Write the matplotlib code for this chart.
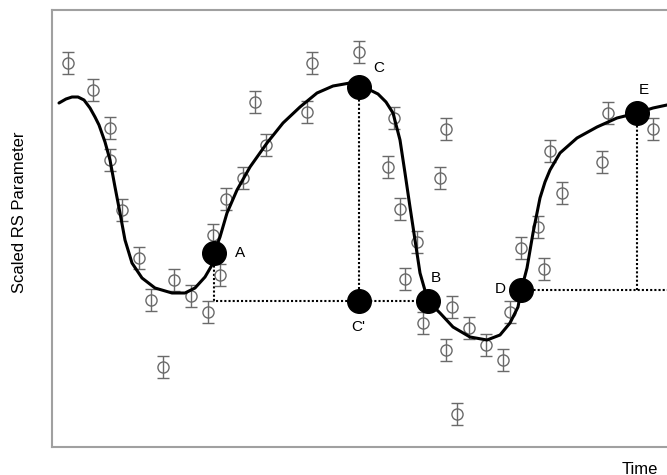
import matplotlib.pyplot as plt

plt.rcParams['font.family'] = ['Liberation Sans', 'DejaVu Sans']

# measured points (time, scaled RS parameter) with error bars
obs_t = [68, 93, 110, 110, 122, 139, 151, 163, 174, 191, 208, 213, 220, 226, 243,
         255, 266, 307, 312, 359, 394, 388, 400, 446, 440, 417, 405, 423, 452, 446,
         469, 486, 503, 457, 510, 521, 544, 538, 562, 550, 602, 608, 653]
obs_y = [412, 385, 347, 315, 265, 217, 175, 108, 195, 179, 163, 240, 200, 276, 297,
         373, 330, 363, 412, 423, 357, 308, 266, 346, 297, 233, 196, 152, 168, 125,
         147, 130, 115, 61, 163, 227, 206, 248, 282, 324, 313, 362, 346]
obs_err = 11

# fitted curve
fit_t = [59, 66, 72, 78, 84, 90, 95, 99, 105, 110, 115, 120, 125, 132, 142, 155, 172,
         185, 195, 205, 212, 214, 220, 227, 237, 250, 267, 283, 300, 317, 333, 350,
         359, 370, 378, 386, 393, 400, 405, 410, 415, 420, 428, 440, 453, 470, 487,
         500, 510, 518, 521, 527, 533, 540, 545, 550, 560, 577, 597, 617, 637, 653, 667]
fit_y = [372, 376, 378, 378, 375, 367, 358, 350, 333, 315, 288, 262, 235, 212, 197,
         187, 182, 182, 187, 198, 210, 222, 238, 262, 285, 308, 332, 352, 368, 382,
         389, 392, 388, 385, 381, 373, 362, 335, 302, 268, 235, 202, 174, 162, 148,
         138, 135, 140, 152, 168, 184, 207, 242, 277, 293, 305, 322, 337, 348, 357,
         362, 367, 370]

# key points
key_names = ['A', 'C', "C'", 'B', 'D', 'E']
key_t = [214, 359, 359, 428, 521, 637]
key_y = [222, 388, 174, 174, 185, 362]
label_t = [240, 379, 358, 436, 500, 644]
label_y = [222, 407, 148, 197, 186, 385]

fig = plt.figure(figsize=(6.67, 4.75), dpi=100)
ax = fig.add_axes([52 / 667, 28 / 475, 615 / 667, 437 / 475])

ax.errorbar(obs_t, obs_y, yerr=obs_err, fmt='o', mfc='none', mec='#6a6a6a',
            ecolor='#6a6a6a', ms=8, mew=1, elinewidth=1, capsize=4.5, capthick=1, zorder=2)

ax.plot(fit_t, fit_y, color='black', lw=2.2, solid_joinstyle='round',
        solid_capstyle='round', zorder=3)

# dotted guide lines
dot = dict(ls=(0, (1, 1)), color='black', lw=1.5, zorder=1)
ax.plot([key_t[0], key_t[0], key_t[3]], [key_y[0], key_y[3], key_y[3]], **dot)
ax.plot([key_t[1], key_t[2]], [key_y[1], key_y[2]], **dot)
ax.plot([key_t[4], 667], [key_y[4], key_y[4]], **dot)
ax.plot([key_t[5], key_t[5]], [key_y[5], key_y[4]], **dot)

ax.plot(key_t, key_y, 'o', color='black', ms=17, zorder=4)
for name, x, y in zip(key_names, label_t, label_y):
    ax.text(x, y, name, fontsize=11, ha='center', va='center', color='black')

ax.set_xlim(52, 667)
ax.set_ylim(28, 465)
ax.set_xticks([])
ax.set_yticks([])
for side in ['left', 'top', 'bottom']:
    ax.spines[side].set_color('#a0a0a0')
    ax.spines[side].set_linewidth(1.5)
ax.spines['right'].set_visible(False)

fig.text(20 / 667, 1 - 212 / 475, 'Scaled RS Parameter', rotation=90,
         ha='center', va='center', fontsize=12)
fig.text(640 / 667, 1 - 469 / 475, 'Time', ha='center', va='center', fontsize=12)

plt.savefig('out.png', dpi=100)
